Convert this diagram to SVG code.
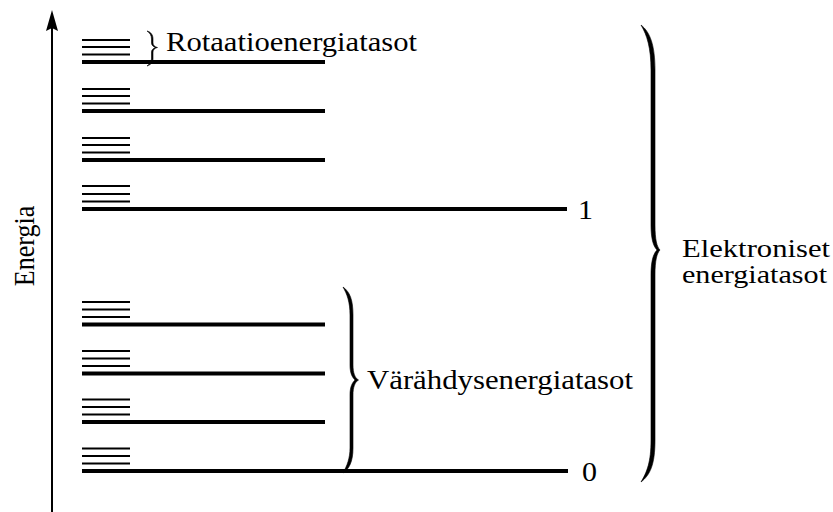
<svg xmlns="http://www.w3.org/2000/svg" width="833" height="512" viewBox="0 0 833 512">
<style>
.thin{stroke:#000;stroke-width:2.2;fill:none}
.thick{stroke:#000;stroke-width:4;fill:none}
.brace{fill:#000;stroke:#000;stroke-width:0.6}
.lbl{font-family:"Liberation Serif","Times New Roman",serif;fill:#000}
</style>
<rect width="833" height="512" fill="#fff"/>
<g id="axis">
<line x1="52" y1="24" x2="52" y2="512" stroke="#000" stroke-width="2"/>
<path d="M52,10 L58,31 L52,28 L46,31 Z" fill="#000"/>
<text class="lbl" font-size="26" text-anchor="middle" transform="translate(34,246) scale(1.15,1) rotate(-90)">Energia</text>
</g>
<g id="level-1">
<line class="thin" x1="82" y1="40" x2="130" y2="40"/>
<line class="thin" x1="82" y1="47" x2="130" y2="47"/>
<line class="thin" x1="82" y1="54.5" x2="130" y2="54.5"/>
<line class="thick" x1="82" y1="62" x2="325" y2="62"/>
<line class="thin" x1="82" y1="89" x2="130" y2="89"/>
<line class="thin" x1="82" y1="96" x2="130" y2="96"/>
<line class="thin" x1="82" y1="103.5" x2="130" y2="103.5"/>
<line class="thick" x1="82" y1="111" x2="325" y2="111"/>
<line class="thin" x1="82" y1="138" x2="130" y2="138"/>
<line class="thin" x1="82" y1="145" x2="130" y2="145"/>
<line class="thin" x1="82" y1="152.5" x2="130" y2="152.5"/>
<line class="thick" x1="82" y1="160" x2="325" y2="160"/>
<line class="thin" x1="82" y1="186" x2="130" y2="186"/>
<line class="thin" x1="82" y1="194" x2="130" y2="194"/>
<line class="thin" x1="82" y1="201.5" x2="130" y2="201.5"/>
<line class="thick" x1="82" y1="209" x2="567" y2="209"/>
<text class="lbl" font-size="27" x="578" y="219" textLength="15" lengthAdjust="spacingAndGlyphs">1</text>
</g>
<g id="level-0">
<line class="thin" x1="82" y1="302" x2="130" y2="302"/>
<line class="thin" x1="82" y1="309.5" x2="130" y2="309.5"/>
<line class="thin" x1="82" y1="317" x2="130" y2="317"/>
<line class="thick" x1="82" y1="324.5" x2="325" y2="324.5"/>
<line class="thin" x1="82" y1="351" x2="130" y2="351"/>
<line class="thin" x1="82" y1="358.5" x2="130" y2="358.5"/>
<line class="thin" x1="82" y1="366" x2="130" y2="366"/>
<line class="thick" x1="82" y1="373.5" x2="325" y2="373.5"/>
<line class="thin" x1="82" y1="399.5" x2="130" y2="399.5"/>
<line class="thin" x1="82" y1="407" x2="130" y2="407"/>
<line class="thin" x1="82" y1="414.5" x2="130" y2="414.5"/>
<line class="thick" x1="82" y1="422" x2="325" y2="422"/>
<line class="thin" x1="82" y1="448.5" x2="130" y2="448.5"/>
<line class="thin" x1="82" y1="456" x2="130" y2="456"/>
<line class="thin" x1="82" y1="463.5" x2="130" y2="463.5"/>
<line class="thick" x1="82" y1="471" x2="568" y2="471"/>
<text class="lbl" font-size="27" x="582" y="481" textLength="15" lengthAdjust="spacingAndGlyphs">0</text>
</g>
<g id="rotation-label">
<path class="brace" d="M147,31 C151,32 153,35 153,39 L153,43 C153,45 154.5,47 157.5,47.5 C154.5,48 153,50 153,52 L153,59 C153,62.5 151,64.5 147,66 C149.5,64 151.5,62 151.5,59 L151.5,52 C151.5,50 153,48.5 155.5,47.5 C153,46.5 151.5,45 151.5,43 L151.5,39 C151.5,35.5 150,33 147,31 Z"/>
<text class="lbl" font-size="27" x="166" y="51" textLength="251" lengthAdjust="spacingAndGlyphs">Rotaatioenergiatasot</text>
</g>
<g id="vibration-label">
<path class="brace" d="M343,287 C350,292 353,300 353,315 L353,365 C353,373 355,378 358.5,380 C355,382 353,387 353,395 L353,448 C353,462 349,469 343,473 C347,466 350,458 350,448 L350,395 C350,387 352,383 355,380 C352,377 350,373 350,365 L350,315 C350,302 347,294 343,287 Z"/>
<text class="lbl" font-size="27" x="367" y="389" textLength="266" lengthAdjust="spacingAndGlyphs">Värähdysenergiatasot</text>
</g>
<g id="electronic-label">
<path class="brace" d="M641,25 C650,32 655,45 655,70 L655,225 C655,240 657,247 660,250 C657,253 655,260 655,275 L655,440 C655,465 650,475 641,482 C647,472 651,462 651,440 L651,275 C651,262 653,254 657,250 C653,246 651,238 651,225 L651,70 C651,48 647,35 641,25 Z"/>
<text class="lbl" font-size="26" x="682" y="257" textLength="148" lengthAdjust="spacingAndGlyphs">Elektroniset</text>
<text class="lbl" font-size="26" x="682" y="283" textLength="145" lengthAdjust="spacingAndGlyphs">energiatasot</text>
</g>
</svg>
